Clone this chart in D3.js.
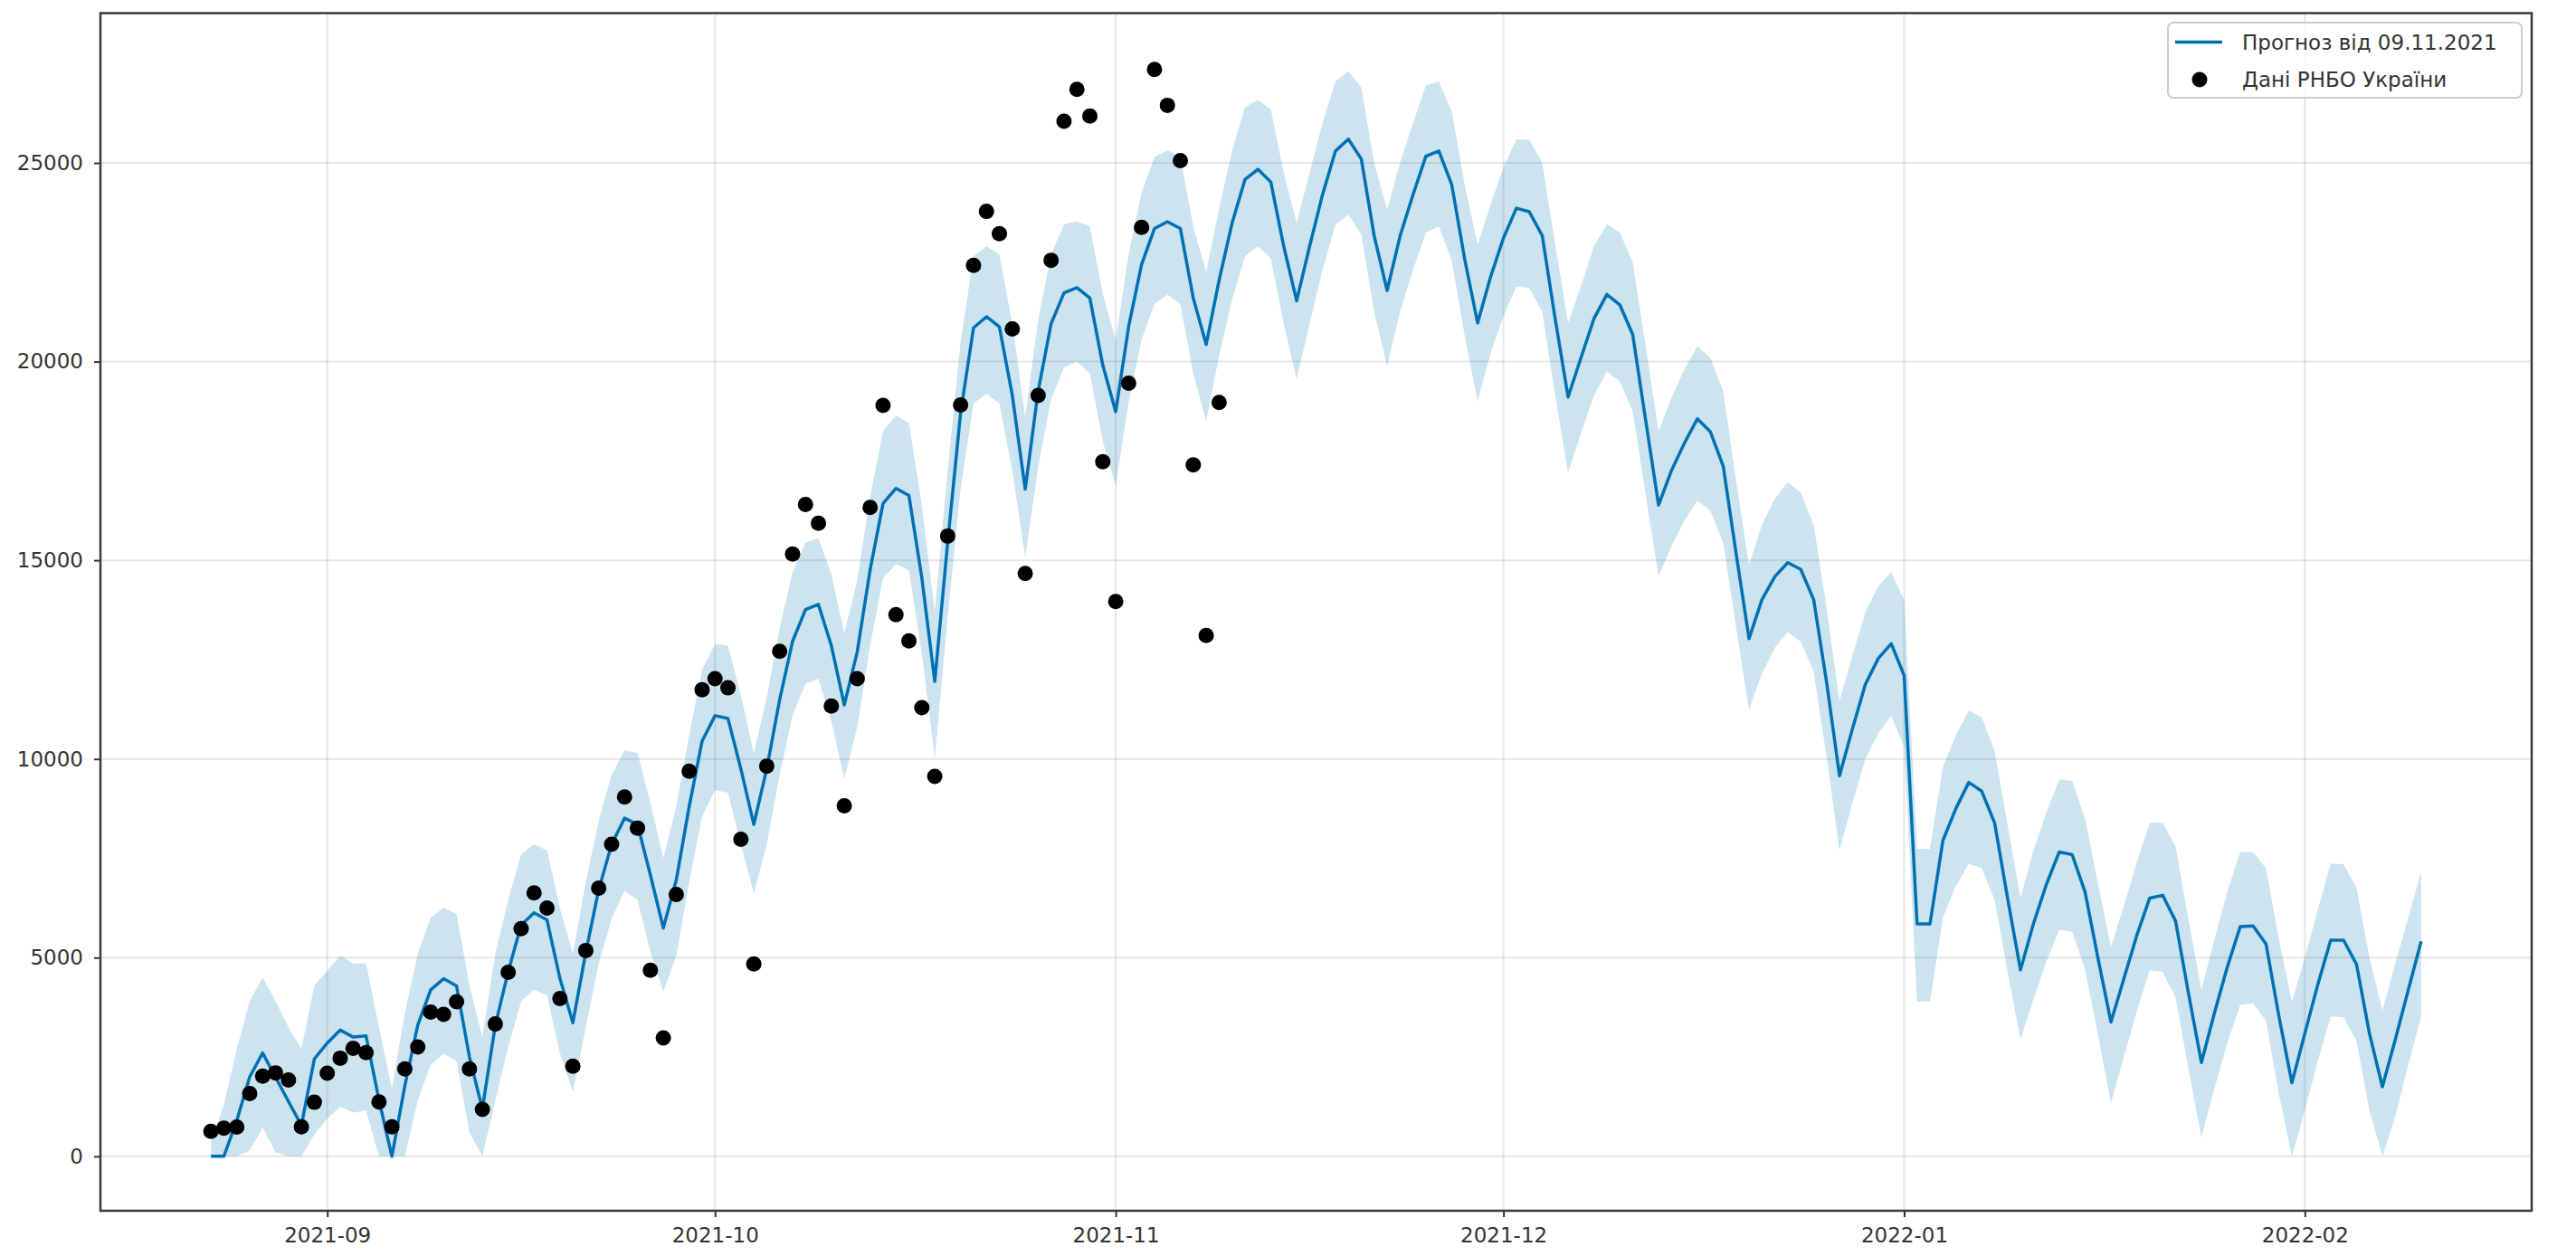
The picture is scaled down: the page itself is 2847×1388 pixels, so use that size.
<!DOCTYPE html>
<html>
<head>
<meta charset="utf-8">
<script src="https://cdn.jsdelivr.net/npm/d3@7"></script>
<style>
  html, body { margin: 0; padding: 0; background: #ffffff; }
  svg { display: block; }
</style>
</head>
<body>
<svg id="chart" width="2847" height="1388"></svg>
<script>
// ---------------- DATA ----------------
const forecastStart = "2021-08-23";   // first day of forecast frame (daily)
const observedStart = "2021-08-23";   // first day of observed data (daily)

// yhat (forecast), daily from 2021-08-23 to 2022-02-10
const forecastYhat = [
  0, 0, 900, 2000, 2600, 1990, 1380, 780, 2450,
  2850, 3180, 3000, 3030, 1420, 0, 1770, 3300, 4190, 4470, 4290, 2500, 1190, 3300, 4650, 5820, 6130, 5950, 4480, 3360,
  5130, 6710, 7850, 8510, 8350, 7080, 5745, 6950, 8800, 10450,
  11090, 11020, 9750, 8350, 9750, 11490, 12960, 13760, 13890, 12850, 11360, 12690, 14760, 16430, 16810, 16630, 14560, 11950,
  15450, 18710, 20850, 21130, 20875, 19150, 16790, 19260, 20950, 21730, 21860, 21600, 19910,
  18740, 20880, 22440, 23350, 23520, 23350, 21600, 20430, 22050, 23480, 24580, 24840, 24520, 22900, 21530,
  22900, 24200, 25300, 25600, 25100, 23160, 21790, 23160, 24200, 25170, 25300, 24450, 22580, 20970, 22130,
  23110, 23860, 23770, 23170, 21080, 19110, 20100, 21080, 21690, 21430, 20680, 18530, 16390, 17260, 17950,
  18560, 18240, 17370, 15170, 13030, 14010, 14590, 14940, 14770, 14010, 11930, 9580, 10760, 11880, 12530, 12900,
  12100, 5850, 5850, 7950, 8750, 9410, 9190, 8390, 6500, 4690, 5850, 6840, 7660, 7590, 6650, 4980, 3380,
  4470, 5560, 6500, 6570, 5920, 4100, 2360, 3600, 4760, 5780, 5800, 5340, 3520, 1850,
  3090, 4320, 5440, 5440, 4830, 3090, 1750, 2940, 4180, 5410
];

// yhat_lower, same dates
const forecastLower = [
  0, 0, 0, 150, 720, 100, 0, 0, 550,
  950, 1250, 1100, 1150, 0, 0, 0, 1400, 2300, 2580, 2400, 600, 0, 1400, 2750, 3900, 4200, 4050, 2600, 1620,
  3250, 4850, 5980, 6680, 6450, 5150, 4140, 5050, 6900, 8550,
  9220, 9150, 7850, 6610, 7850, 9600, 11100, 11890, 12020, 10950, 9490, 10800, 12850, 14550, 14900, 14750, 12650, 10020,
  13550, 16800, 18950, 19190, 18950, 17250, 15080, 17350, 19050, 19850, 20000, 19700, 18000,
  16880, 18980, 20550, 21450, 21680, 21450, 19700, 18500, 20150, 21550, 22650, 22900, 22600, 20950, 19560,
  20950, 22300, 23450, 23700, 23200, 21250, 19890, 21250, 22300, 23250, 23400, 22550, 20650, 19000, 20200,
  21150, 21890, 21850, 21250, 19150, 17200, 18200, 19150, 19750, 19500, 18750, 16650, 14590, 15350, 16000,
  16500, 16250, 15450, 13300, 11230, 12150, 12800, 13200, 12950, 12200, 10050, 7700, 8900, 10000, 10650, 11080,
  10300, 3890, 3890, 6000, 6800, 7370, 7250, 6450, 4650, 2940, 3950, 4900, 5700, 5650, 4700, 3050, 1340,
  2500, 3650, 4680, 4650, 4000, 2200, 470, 1700, 2850, 3810, 3850, 3400, 1550, 0,
  1150, 2400, 3520, 3500, 2900, 1150, 0, 1000, 2300, 3520
];

// yhat_upper, same dates
const forecastUpper = [
  350, 1300, 2700, 3900, 4500, 3900, 3250, 2700, 4300,
  4670, 5050, 4850, 4850, 3250, 1700, 3600, 5100, 6000, 6260, 6100, 4300, 3000, 5100, 6450, 7600, 7850, 7700, 6250, 5100,
  6900, 8450, 9600, 10220, 10150, 8900, 7500, 8800, 10600, 12250,
  12890, 12850, 11600, 10150, 11550, 13300, 14700, 15450, 15550, 14650, 13160, 14500, 16600, 18250, 18640, 18450, 16400, 13700,
  17250, 20500, 22650, 22900, 22700, 20950, 18610, 21050, 22700, 23450, 23540, 23400, 21700,
  20530, 22700, 24250, 25150, 25320, 25150, 23400, 22250, 23850, 25300, 26400, 26590, 26350, 24750, 23500,
  24750, 26000, 27050, 27300, 26900, 25000, 23820, 25000, 26000, 26950, 27050, 26300, 24450, 22940, 23950,
  24900, 25600, 25580, 25000, 22950, 20970, 21900, 22900, 23460, 23250, 22500, 20400, 18240, 19100, 19800,
  20390, 20100, 19250, 17000, 14880, 15900, 16550, 16970, 16700, 15900, 13800, 11450, 12600, 13700, 14350, 14710,
  14000, 7740, 7740, 9800, 10600, 11220, 11050, 10200, 8350, 6500, 7700, 8650, 9480, 9450, 8500, 6850, 5270,
  6300, 7400, 8390, 8400, 7800, 5950, 4180, 5450, 6650, 7660, 7650, 7250, 5450, 3890,
  5000, 6200, 7370, 7350, 6750, 5000, 3670, 4850, 6000, 7160
];

// Observed daily cases (РНБО), daily from 2021-08-23 to 2021-11-09
const observedCases = [
  630, 710, 735, 1580, 2015, 2100, 1920, 740, 1360,
  2090, 2470, 2720, 2610, 1370, 740, 2200, 2750, 3630, 3570, 3890, 2200, 1180, 3330, 4630, 5730, 6630, 6250, 3970, 2270,
  5180, 6750, 7855, 9045, 8260, 4680, 2980, 6590, 9690, 11740,
  12020, 11790, 7976, 4840, 9820, 12710, 15160, 16405, 15930, 11330, 8820, 12020, 16330, 18900, 13630, 12970, 11290, 9560,
  15610, 18910, 22420, 23780, 23220, 20820, 14670, 19150, 22550, 26050, 26850, 26180, 17480,
  13960, 19455, 23380, 27350, 26450, 25060, 17400, 13110, 18970
];

const yTickValues = [0, 5000, 10000, 15000, 20000, 25000];
const xTickLabels = ["2021-09", "2021-10", "2021-11", "2021-12", "2022-01", "2022-02"];
const legendLabels = ["Прогноз від 09.11.2021", "Дані РНБО України"];

// ---------------- LAYOUT / STYLE ----------------
const plot = { left: 111, right: 2798, top: 14.5, bottom: 1338 };
const yDomain = [-1370, 28770];
const lineColor = "#0072B2";
const textColor = "#333333";
const fontFamily = "'DejaVu Sans', sans-serif";
const fontSize = 23;

const svg = d3.select("#chart");
const parseDay = d3.utcParse("%Y-%m-%d");
const parseMonth = d3.utcParse("%Y-%m");

const fStart = parseDay(forecastStart);
const oStart = parseDay(observedStart);
const forecast = forecastYhat.map((v, i) => ({
  date: d3.utcDay.offset(fStart, i),
  yhat: v,
  lower: forecastLower[i],
  upper: forecastUpper[i]
}));
const observed = observedCases.map((v, i) => ({ date: d3.utcDay.offset(oStart, i), value: v }));

const first = forecast[0].date, last = forecast[forecast.length - 1].date;
const span = last - first;
const x = d3.scaleUtc()
  .domain([new Date(+first - 0.05 * span), new Date(+last + 0.05 * span)])
  .range([plot.left, plot.right]);
const y = d3.scaleLinear().domain(yDomain).range([plot.bottom, plot.top]);

const xTicks = xTickLabels.map(s => parseMonth(s));

// clip
svg.append("defs").append("clipPath").attr("id", "plotclip")
  .append("rect")
  .attr("x", plot.left).attr("y", plot.top)
  .attr("width", plot.right - plot.left).attr("height", plot.bottom - plot.top);

// grid
const grid = svg.append("g").attr("class", "grid");
grid.selectAll("line.vx").data(xTicks).join("line")
  .attr("x1", d => x(d)).attr("x2", d => x(d))
  .attr("y1", plot.top).attr("y2", plot.bottom)
  .attr("stroke", "#808080").attr("stroke-opacity", 0.2).attr("stroke-width", 2);
grid.selectAll("line.hy").data(yTickValues).join("line")
  .attr("x1", plot.left).attr("x2", plot.right)
  .attr("y1", d => y(d)).attr("y2", d => y(d))
  .attr("stroke", "#808080").attr("stroke-opacity", 0.2).attr("stroke-width", 2);

const g = svg.append("g").attr("clip-path", "url(#plotclip)");

// uncertainty band
const area = d3.area()
  .x(d => x(d.date))
  .y0(d => y(d.lower))
  .y1(d => y(d.upper));
g.append("path").datum(forecast)
  .attr("d", area)
  .attr("fill", lineColor).attr("fill-opacity", 0.2);

// forecast line
const line = d3.line().x(d => x(d.date)).y(d => y(d.yhat));
g.append("path").datum(forecast)
  .attr("d", line)
  .attr("fill", "none").attr("stroke", lineColor)
  .attr("stroke-width", 3.5).attr("stroke-linejoin", "round");

// observed points
g.selectAll("circle.obs").data(observed).join("circle")
  .attr("class", "obs")
  .attr("cx", d => x(d.date)).attr("cy", d => y(d.value))
  .attr("r", 8.5).attr("fill", "#000000");

// axes
const xAxis = d3.axisBottom(x).tickValues(xTicks).tickFormat(d3.utcFormat("%Y-%m"))
  .tickSize(7).tickPadding(12);
const gx = svg.append("g").attr("transform", `translate(0,${plot.bottom})`).call(xAxis);
const yAxis = d3.axisLeft(y).tickValues(yTickValues).tickFormat(d3.format("d"))
  .tickSize(7).tickPadding(12);
const gy = svg.append("g").attr("transform", `translate(${plot.left},0)`).call(yAxis);

[gx, gy].forEach(ax => {
  ax.select(".domain").remove();
  ax.selectAll(".tick line").attr("stroke", "#333").attr("stroke-width", 2);
  ax.selectAll(".tick text")
    .attr("fill", textColor)
    .style("font-family", fontFamily)
    .style("font-size", fontSize + "px");
});

// frame
svg.append("rect")
  .attr("x", plot.left).attr("y", plot.top)
  .attr("width", plot.right - plot.left).attr("height", plot.bottom - plot.top)
  .attr("fill", "none").attr("stroke", "#3a3a3a").attr("stroke-width", 2.5);

// legend
const lg = svg.append("g").attr("class", "legend");
lg.append("rect")
  .attr("x", 2396).attr("y", 25).attr("width", 391).attr("height", 83)
  .attr("rx", 6).attr("ry", 6)
  .attr("fill", "#ffffff").attr("fill-opacity", 0.8)
  .attr("stroke", "#cccccc").attr("stroke-width", 2);
lg.append("line")
  .attr("x1", 2404).attr("x2", 2456).attr("y1", 46.5).attr("y2", 46.5)
  .attr("stroke", lineColor).attr("stroke-width", 3.5);
lg.append("circle").attr("cx", 2431).attr("cy", 88).attr("r", 8.5).attr("fill", "#000");
lg.selectAll("text").data(legendLabels).join("text")
  .attr("x", 2478)
  .attr("y", (d, i) => 54.5 + i * 41.5)
  .attr("fill", textColor)
  .style("font-family", fontFamily)
  .style("font-size", fontSize + "px")
  .text(d => d);
</script>
</body>
</html>
